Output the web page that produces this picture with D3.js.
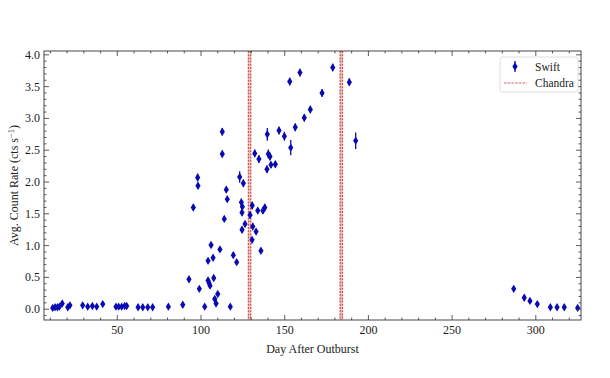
<!DOCTYPE html>
<html>
<head>
    <title>Swift light curve</title>
    <script src="https://d3js.org/d3.v7.min.js"></script>
    <style>
        body { margin: 0; background: #fff; }
        text { font-family: "Liberation Serif", "DejaVu Serif", serif; fill: #222; }
    </style>
</head>
<body>
<div id="chart"></div>
<script type="text/javascript">
    // Swift observations: day after outburst, avg count rate, 1-sigma error
    const days = [11.4, 12.8, 14.2, 15.4, 17.1, 20.4, 21.7, 29.3, 32.3, 35.1, 37.7, 41.3,
        49.2, 50.8, 52.6, 54.4, 55.6, 62.4, 65.2, 68.2, 71.1, 80.5, 89.1, 92.8, 95.4,
        98.0, 98.2, 99.0, 102.2, 104.2, 104.2, 104.8, 105.4, 106.0, 107.2, 107.6, 108.2,
        109.0, 110.0, 111.3, 112.7, 112.7, 113.9, 115.1, 115.7, 117.5, 119.3, 121.3,
        123.1, 124.1, 124.5, 124.5, 124.7, 125.3, 126.3, 129.3, 130.5, 130.6, 130.9,
        132.1, 132.9, 133.9, 134.6, 135.8, 137.0, 138.1, 139.4, 139.6, 140.2, 141.2,
        141.8, 144.4, 146.6, 149.8, 153.0, 153.6, 156.3, 159.1, 161.7, 165.3, 172.3,
        178.7, 188.6, 192.4, 286.8, 293.1, 296.5, 300.9, 308.7, 312.7, 317.0, 325.0];
    const rates = [0.02, 0.03, 0.03, 0.04, 0.09, 0.03, 0.06, 0.06, 0.04, 0.05, 0.04, 0.08,
        0.04, 0.04, 0.04, 0.05, 0.05, 0.03, 0.03, 0.03, 0.03, 0.04, 0.07, 0.47, 1.60,
        2.07, 1.94, 0.32, 0.04, 0.45, 0.76, 0.41, 0.37, 1.01, 0.81, 0.49, 0.16,
        0.09, 0.24, 0.94, 2.79, 2.44, 1.42, 1.88, 1.73, 0.04, 0.85, 0.74,
        2.08, 1.68, 1.52, 1.25, 1.61, 1.98, 1.34, 1.48, 1.09, 1.63, 1.30,
        2.45, 1.22, 1.55, 2.36, 0.92, 1.55, 1.60, 2.20, 2.75, 2.44, 2.40,
        2.27, 2.28, 2.81, 2.72, 3.58, 2.54, 2.86, 3.72, 3.01, 3.14, 3.40,
        3.80, 3.57, 2.65, 0.32, 0.18, 0.13, 0.08, 0.03, 0.03, 0.03, 0.02];
    const errors = [0.03, 0.03, 0.03, 0.03, 0.03, 0.03, 0.03, 0.03, 0.03, 0.03, 0.03, 0.03,
        0.03, 0.03, 0.03, 0.03, 0.03, 0.03, 0.03, 0.03, 0.03, 0.03, 0.03, 0.04, 0.05,
        0.06, 0.05, 0.03, 0.03, 0.05, 0.04, 0.04, 0.04, 0.04, 0.04, 0.04, 0.03,
        0.03, 0.03, 0.04, 0.06, 0.05, 0.04, 0.05, 0.05, 0.03, 0.04, 0.04,
        0.09, 0.06, 0.05, 0.05, 0.05, 0.06, 0.04, 0.05, 0.04, 0.06, 0.05,
        0.06, 0.04, 0.05, 0.06, 0.04, 0.05, 0.05, 0.06, 0.10, 0.07, 0.06,
        0.05, 0.05, 0.06, 0.07, 0.06, 0.12, 0.06, 0.06, 0.06, 0.06, 0.06,
        0.06, 0.06, 0.13, 0.04, 0.04, 0.03, 0.03, 0.03, 0.03, 0.03, 0.03];

    // Chandra observation epochs (each band is two close dashed lines)
    const chandraDays = [128.3, 129.7, 183.1, 184.5];

    const xTicks = [50, 100, 150, 200, 250, 300];
    const yTicks = [0.0, 0.5, 1.0, 1.5, 2.0, 2.5, 3.0, 3.5, 4.0];

    const width = 610;
    const height = 378;
    const margin = {top: 51, right: 29, bottom: 58, left: 44};

    const blue = '#0a0ab4';
    const red = '#c9504a';
    const fs = 12;

    const svg = d3.select('#chart').append('svg')
        .attr('width', width).attr('height', height);

    const x = d3.scaleLinear().domain([6.2, 327]).range([margin.left, width - margin.right]);
    const y = d3.scaleLinear().domain([-0.17, 4.06]).range([height - margin.bottom, margin.top]);

    const plot = svg.append('g');

    // chandra bands
    const bands = d3.range(0, chandraDays.length, 2).map(i => [chandraDays[i], chandraDays[i + 1]]);
    plot.selectAll('rect.band')
        .data(bands)
        .enter().append('rect')
        .attr('class', 'band')
        .attr('x', d => x(d[0]))
        .attr('width', d => x(d[1]) - x(d[0]))
        .attr('y', y.range()[1])
        .attr('height', y.range()[0] - y.range()[1])
        .attr('fill', '#f2c6c0');

    plot.selectAll('line.chandra')
        .data(chandraDays)
        .enter().append('line')
        .attr('class', 'chandra')
        .attr('x1', d => x(d)).attr('x2', d => x(d))
        .attr('y1', y.range()[1]).attr('y2', y.range()[0])
        .attr('stroke', red)
        .attr('stroke-width', 1.3)
        .attr('stroke-dasharray', '2,1.2');

    // swift points with error bars
    const pts = days.map((d, i) => ({day: d, rate: rates[i], err: errors[i]}));

    plot.selectAll('line.err')
        .data(pts)
        .enter().append('line')
        .attr('class', 'err')
        .attr('x1', d => x(d.day)).attr('x2', d => x(d.day))
        .attr('y1', d => y(d.rate - d.err)).attr('y2', d => y(d.rate + d.err))
        .attr('stroke', blue)
        .attr('stroke-width', 1.3);

    const diamond = 'M0,-4.2L2.6,0L0,4.2L-2.6,0Z';
    plot.selectAll('path.pt')
        .data(pts)
        .enter().append('path')
        .attr('class', 'pt')
        .attr('d', diamond)
        .attr('transform', d => `translate(${x(d.day)},${y(d.rate)})`)
        .attr('fill', blue);

    // axes, ticks inward on all sides
    const x0 = x.range()[0], x1 = x.range()[1];
    const y0 = y.range()[0], y1 = y.range()[1];
    const xMinor = d3.range(10, 330, 10).filter(v => v > x.domain()[0] && v < x.domain()[1] && v % 50 !== 0);
    const yMinor = d3.range(-10, 41).map(v => v / 10).filter(v => v > y.domain()[0] && v < y.domain()[1] && Math.round(v * 10) % 5 !== 0);

    const ticks = svg.append('g').attr('stroke', '#333').attr('stroke-width', 0.8);
    xTicks.forEach(v => {
        ticks.append('line').attr('x1', x(v)).attr('x2', x(v)).attr('y1', y0).attr('y2', y0 - 5);
        ticks.append('line').attr('x1', x(v)).attr('x2', x(v)).attr('y1', y1).attr('y2', y1 + 5);
    });
    xMinor.forEach(v => {
        ticks.append('line').attr('x1', x(v)).attr('x2', x(v)).attr('y1', y0).attr('y2', y0 - 2.5);
        ticks.append('line').attr('x1', x(v)).attr('x2', x(v)).attr('y1', y1).attr('y2', y1 + 2.5);
    });
    yTicks.forEach(v => {
        ticks.append('line').attr('x1', x0).attr('x2', x0 + 5).attr('y1', y(v)).attr('y2', y(v));
        ticks.append('line').attr('x1', x1).attr('x2', x1 - 5).attr('y1', y(v)).attr('y2', y(v));
    });
    yMinor.forEach(v => {
        ticks.append('line').attr('x1', x0).attr('x2', x0 + 2.5).attr('y1', y(v)).attr('y2', y(v));
        ticks.append('line').attr('x1', x1).attr('x2', x1 - 2.5).attr('y1', y(v)).attr('y2', y(v));
    });

    svg.append('rect')
        .attr('x', x0).attr('y', y1)
        .attr('width', x1 - x0).attr('height', y0 - y1)
        .attr('fill', 'none').attr('stroke', '#333').attr('stroke-width', 0.9);

    // tick labels
    svg.selectAll('text.xt')
        .data(xTicks)
        .enter().append('text')
        .attr('class', 'xt')
        .attr('x', d => x(d)).attr('y', y0 + 14)
        .attr('text-anchor', 'middle')
        .attr('font-size', fs)
        .text(d => d);

    svg.selectAll('text.yt')
        .data(yTicks)
        .enter().append('text')
        .attr('class', 'yt')
        .attr('x', x0 - 4).attr('y', d => y(d) + 4)
        .attr('text-anchor', 'end')
        .attr('font-size', fs)
        .text(d => d.toFixed(1));

    // axis titles
    svg.append('text')
        .attr('x', (x0 + x1) / 2).attr('y', y0 + 33)
        .attr('text-anchor', 'middle')
        .attr('font-size', fs)
        .text('Day After Outburst');

    const yl = svg.append('text')
        .attr('transform', `translate(18,${(y0 + y1) / 2}) rotate(-90)`)
        .attr('text-anchor', 'middle')
        .attr('font-size', fs);
    yl.append('tspan').text('Avg. Count Rate (cts s');
    yl.append('tspan').attr('dy', -4).attr('font-size', 8.5).text('\u22121');
    yl.append('tspan').attr('dy', 4).text(')');

    // legend
    const lg = svg.append('g').attr('transform', 'translate(500,57)');
    lg.append('rect')
        .attr('width', 78).attr('height', 35).attr('rx', 2)
        .attr('fill', '#fff').attr('stroke', '#d6d6d6').attr('stroke-width', 0.8);
    lg.append('line')
        .attr('x1', 15).attr('x2', 15).attr('y1', 4).attr('y2', 15)
        .attr('stroke', blue).attr('stroke-width', 1.3);
    lg.append('path').attr('d', diamond).attr('transform', 'translate(15,9.5)').attr('fill', blue);
    lg.append('text').attr('x', 35).attr('y', 14).attr('font-size', 11.5).text('Swift');
    lg.append('line')
        .attr('x1', 4).attr('x2', 27).attr('y1', 26).attr('y2', 26)
        .attr('stroke', red).attr('stroke-width', 0.9).attr('stroke-dasharray', '2.5,1.2');
    lg.append('text').attr('x', 35).attr('y', 30).attr('font-size', 11.5).text('Chandra');
</script>
</body>
</html>
